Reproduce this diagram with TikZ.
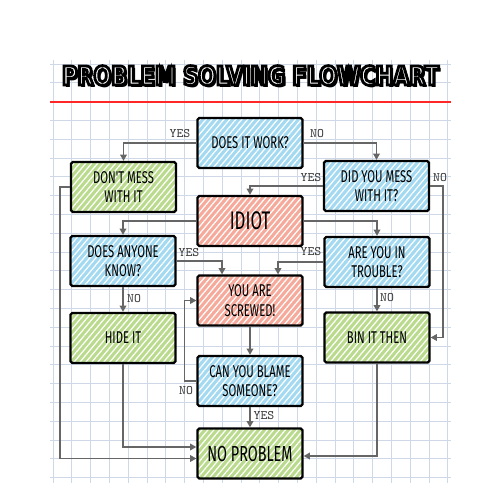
\documentclass[tikz,border=0pt]{standalone}
\usepackage{fontspec}
\usetikzlibrary{arrows.meta, patterns.meta}
\newfontfamily\boxfont[FakeStretch=0.66]{Fira Sans}
\newfontfamily\titlefont[FakeStretch=0.8]{DejaVu Sans}
\definecolor{gridblue}{HTML}{CFD8E7}
\definecolor{askblue}{HTML}{A3D9F1}
\definecolor{okgreen}{HTML}{BADB8E}
\definecolor{badred}{HTML}{F6AA9B}
\definecolor{wiregray}{HTML}{666666}
% outlined letters: fill in the text colour, stroke in black
\newcommand{\outlined}[1]{\special{pdf:literal direct 2 Tr 1.6 w 0 0 0 RG}#1\special{pdf:literal direct 0 Tr}}
\tikzset{
  card/.style={draw=black, line width=1.3pt, rounded corners=1pt,
    minimum width=2.1cm, minimum height=1cm, align=center, inner sep=1pt,
    font=\boxfont\fontsize{9.7}{11}\selectfont,
    pattern={Lines[angle=50,distance=2.6pt,line width=0.7pt]}, pattern color=white},
  ask/.style={card, preaction={fill=askblue}},
  fine/.style={card, preaction={fill=okgreen}},
  doom/.style={card, preaction={fill=badred}},
  lbl/.style={font=\ttfamily\fontsize{7.4}{8}\selectfont, text=black!75, inner sep=0pt},
  wire/.style={draw=wiregray, line width=0.85pt, ->},
  headline/.style={font=\titlefont\bfseries\fontsize{14.9}{16}\selectfont, inner sep=0pt}
}
\begin{document}
\begin{tikzpicture}[x=0.02cm, y=-0.02cm, >={Triangle[length=3.6pt,width=3.8pt]}]
\useasboundingbox (0,0) rectangle (500,500);
% squared paper
\foreach \i in {0,...,21} \draw[color=gridblue, line width=0.55pt] (53+18.8*\i,60) -- (53+18.8*\i,483);
\foreach \j in {0,...,22} \draw[color=gridblue, line width=0.55pt] (50,64+18.8*\j) -- (451,64+18.8*\j);
\fill[red!85!white] (50,100.6) rectangle (451,102.6);
% title
\node[headline, text=black] (titleshadow) at (252.5,78) {PROBLEM SOLVING FLOWCHART};
\node[headline, text=white] (title) at (250.5,75.5) {\outlined{PROBLEM SOLVING FLOWCHART}};
% boxes
\node[ask] (work) at (250,143) {DOES IT WORK?};
\node[fine] (dont) at (123.5,187) {DON'T MESS\\WITH IT};
\node[ask] (mess) at (376.5,186) {DID YOU MESS\\WITH IT?};
\node[doom, font=\boxfont\fontsize{14.5}{16}\selectfont] (idiot) at (250,221) {IDIOT};
\node[ask] (anyone) at (123,261) {DOES ANYONE\\KNOW?};
\node[ask] (trouble) at (377,262) {ARE YOU IN\\TROUBLE?};
\node[doom] (screwed) at (250,300.5) {YOU ARE\\SCREWED!};
\node[ask] (blame) at (250,381) {CAN YOU BLAME\\SOMEONE?};
\node[fine] (hide) at (123,338) {HIDE IT};
\node[fine] (bin) at (377,337.5) {BIN IT THEN};
\node[fine, font=\boxfont\fontsize{12.4}{14}\selectfont] (noprob) at (250,453.5) {NO PROBLEM};
% answers
\node[lbl] (yesA) at (180,134) {YES};
\node[lbl] (noA) at (317,134) {NO};
\node[lbl] (yesB) at (311,178) {YES};
\node[lbl] (noB) at (440,178) {NO};
\node[lbl] (yesC) at (189,253) {YES};
\node[lbl] (yesD) at (311,252) {YES};
\node[lbl] (noC) at (134,299) {NO};
\node[lbl] (noD) at (387,298) {NO};
\node[lbl] (noE) at (186,391) {NO};
\node[lbl] (yesE) at (264,416) {YES};
% connectors
\draw[wire] (work.west) -| (dont.north);
\draw[wire] (work.east) -| (mess.north);
\draw[wire] (mess.west) -| (idiot.north);
\draw[wire] (mess.east) -- ++(13,0) |- (bin.east);
\draw[wire] (idiot.west) -| (anyone.north);
\draw[wire] (idiot.east) -| (trouble.north);
\draw[wire] (anyone.east) -| ([xshift=-0.56cm]screwed.north);
\draw[wire] (trouble.west) -| ([xshift=0.56cm]screwed.north);
\draw[wire] (anyone.south) -- (hide.north);
\draw[wire] (trouble.south) -- (bin.north);
\draw[wire] (screwed.south) -- (blame.north);
\draw[wire] (blame.south) -- (noprob.north);
\draw[wire] (blame.west) -- ++(-12,0) |- (screwed.west);
\draw[wire] (hide.south) |- ([yshift=0.13cm]noprob.west);
\draw[wire] (dont.west) -- ++(-10,0) |- ([yshift=-0.1cm]noprob.west);
\draw[wire] (bin.south) |- ([yshift=-0.05cm]noprob.east);
\end{tikzpicture}
\end{document}
